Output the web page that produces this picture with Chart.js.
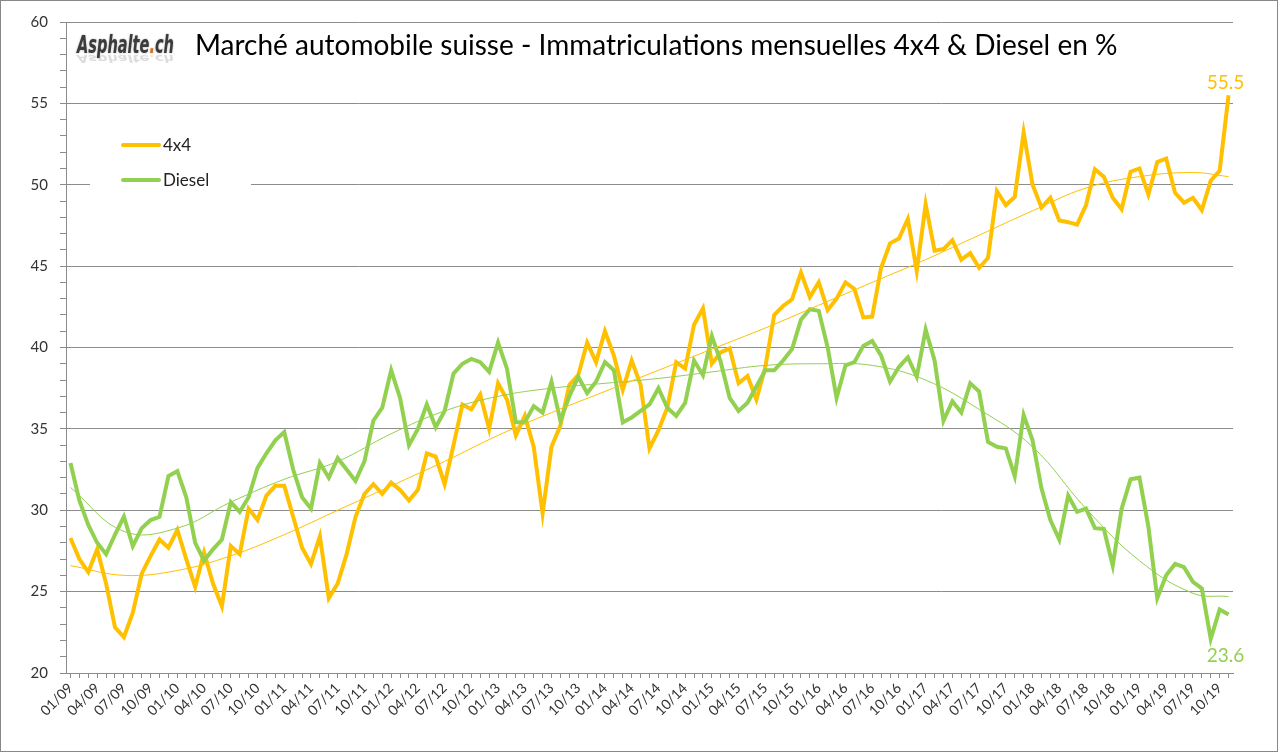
<!DOCTYPE html>
<html>
<head>
<meta charset="utf-8">
<script src="https://cdn.jsdelivr.net/npm/chart.js@4.4.1/dist/chart.umd.min.js"></script>
<style>
html, body { margin: 0; padding: 0; background: #fff; }
#wrap { width: 1278px; height: 752px; position: relative; }
</style>
</head>
<body>
<div id="wrap"><canvas id="chart" width="1278" height="752"></canvas></div>
<script>
// categories: 01/09 .. 11/19
const years = ['09', '10', '11', '12', '13', '14', '15', '16', '17', '18', '19'];
const monthNums = ['01', '02', '03', '04', '05', '06', '07', '08', '09', '10', '11', '12'];
const months = [];
years.forEach(y => monthNums.forEach(m => months.push(m + '/' + y)));
months.length = 131;

const share4x4 = [
  28.3, 27.0, 26.2, 27.6, 25.5, 22.8, 22.2, 23.7, 26.1, 27.2, 28.2, 27.7,
  28.8, 27.0, 25.3, 27.4, 25.5, 24.1, 27.8, 27.3, 30.1, 29.4, 30.9, 31.5,
  31.5, 29.6, 27.7, 26.7, 28.4, 24.6, 25.5, 27.3, 29.6, 31.0, 31.6, 31.0,
  31.7, 31.25, 30.6, 31.25, 33.5, 33.3, 31.6, 34.0, 36.5, 36.2, 37.1, 35.0,
  37.8, 36.8, 34.6, 35.8, 33.9, 29.8, 33.9, 35.2, 37.7, 38.3, 40.3, 39.1,
  41.0, 39.5, 37.4, 39.2, 37.7, 33.8, 34.9, 36.3, 39.1, 38.7, 41.4, 42.4,
  39.0, 39.7, 39.95, 37.8, 38.25, 36.8, 38.8, 42.0, 42.55, 42.96, 44.6, 43.1,
  44.0, 42.3, 43.0, 44.0, 43.6, 41.85, 41.9, 44.9, 46.4, 46.7, 47.9, 44.7,
  48.8, 45.95, 46.05, 46.6, 45.4, 45.8, 44.9, 45.5, 49.6, 48.75, 49.25, 53.2,
  50.0, 48.6, 49.2, 47.8, 47.7, 47.55, 48.75, 50.95, 50.5, 49.2, 48.5, 50.8,
  51.0, 49.4, 51.4, 51.6, 49.5, 48.9, 49.2, 48.45, 50.25, 50.85, 55.5
];

const shareDiesel = [
  32.9, 30.6, 29.1, 28.0, 27.3, 28.5, 29.6, 27.8, 28.9, 29.4, 29.6, 32.1,
  32.4, 30.8, 28.0, 26.9, 27.6, 28.2, 30.5, 29.9, 30.8, 32.6, 33.5, 34.3,
  34.8, 32.5, 30.8, 30.1, 32.9, 32.0, 33.2, 32.5, 31.8, 33.0, 35.5, 36.3,
  38.6, 36.9, 34.0, 35.0, 36.5, 35.1, 36.1, 38.4, 39.0, 39.3, 39.1, 38.5,
  40.3, 38.7, 35.4, 35.4, 36.4, 36.0, 37.9, 35.5, 37.0, 38.2, 37.2, 37.9,
  39.1, 38.6, 35.4, 35.7, 36.1, 36.5, 37.5, 36.3, 35.8, 36.6, 39.2, 38.3,
  40.7, 39.1, 36.9, 36.1, 36.6, 37.6, 38.6, 38.6, 39.2, 39.9, 41.7, 42.35,
  42.25, 40.0, 36.9, 38.9, 39.1, 40.1, 40.4, 39.5, 37.9, 38.8, 39.4, 38.2,
  41.1, 39.2, 35.5, 36.7, 36.0, 37.8, 37.3, 34.2, 33.9, 33.8, 32.1, 35.85,
  34.3, 31.35, 29.4, 28.2, 30.9, 29.9, 30.1, 28.9, 28.85, 26.6, 30.1, 31.9,
  32.0, 29.0, 24.6, 26.0, 26.7, 26.5, 25.6, 25.2, 22.1, 23.9, 23.6
];

// trend curves, read every 6 months off the picture
const trendMonths = ['01/09', '07/09', '01/10', '07/10', '01/11', '07/11', '01/12', '07/12',
  '01/13', '07/13', '01/14', '07/14', '01/15', '07/15', '01/16', '07/16', '01/17', '07/17',
  '01/18', '07/18', '01/19', '07/19', '11/19'];
const trend4x4 = [26.6, 26.0, 26.3, 27.2, 28.5, 30.0, 31.5, 33.0, 34.6, 36.0, 37.3, 38.6,
  39.9, 41.2, 42.6, 44.0, 45.4, 46.9, 48.4, 49.8, 50.5, 50.75, 50.5];
const trendDiesel = [31.4, 28.7, 28.9, 30.5, 31.9, 33.0, 34.7, 36.1, 37.0, 37.5, 37.8, 38.1,
  38.5, 38.9, 39.0, 38.9, 38.0, 36.2, 33.9, 30.1, 26.9, 24.9, 24.7];

const yTicks = [20, 25, 30, 35, 40, 45, 50, 55, 60];

const ORANGE = '#FFC000';
const GREEN = '#92D050';
const GRID = '#8c8c8c';
const FONT = 'Lato, "Open Sans", sans-serif';

const toPoints = (labels, vals) => labels.map((m, i) => ({ x: m, y: vals[i] }));

const decorPlugin = {
  id: 'decor',
  beforeDraw(chart) {
    const c = chart.ctx;
    c.save();
    c.fillStyle = '#fff';
    c.fillRect(0, 0, chart.width, chart.height);
    c.restore();
  },
  afterDraw(chart) {
    const c = chart.ctx;
    c.save();

    // outer frame
    c.strokeStyle = '#888';
    c.lineWidth = 1;
    c.strokeRect(0.5, 0.5, chart.width - 1, chart.height - 1);

    // title
    const title = 'Marché automobile suisse - Immatriculations mensuelles 4x4 & Diesel en %';
    c.font = '25px ' + FONT;
    let w = c.measureText(title).width;
    const size = 25 * 923 / w;
    c.font = size.toFixed(1) + 'px ' + FONT;
    c.fillStyle = '#000';
    c.textBaseline = 'alphabetic';
    c.textAlign = 'left';
    c.fillText(title, 195, 55);

    // logo
    const logoFont = 'italic bold 24px "DejaVu Sans Condensed", "DejaVu Sans", sans-serif';
    c.font = logoFont;
    const a = 'Asphalte', d = '.', h = 'ch';
    const wa = c.measureText(a).width, wd = c.measureText(d).width, wh = c.measureText(h).width;
    const sx = 97 / (wa + wd + wh);
    const drawLogo = (alpha) => {
      c.globalAlpha = alpha;
      c.fillStyle = '#3b3b3b';
      c.fillText(a, 0, 0);
      c.fillStyle = '#d9731a';
      c.fillText(d, wa, 0);
      c.fillStyle = '#3b3b3b';
      c.fillText(h, wa + wd, 0);
    };
    c.save();
    c.translate(77, 53);
    c.scale(sx, 1);
    c.shadowColor = 'rgba(0,0,0,0.35)';
    c.shadowBlur = 2;
    drawLogo(1);
    c.restore();
    c.save();
    c.translate(77, 55);
    c.scale(sx, -0.45);
    drawLogo(0.18);
    c.restore();
    c.globalAlpha = 1;

    // legend
    c.fillStyle = '#fff';
    c.fillRect(90, 118, 161, 80);
    c.lineCap = 'round';
    c.lineWidth = 4;
    [[ORANGE, '4x4', 145], [GREEN, 'Diesel', 180]].forEach(([col, txt, y]) => {
      c.strokeStyle = col;
      c.beginPath();
      c.moveTo(123, y);
      c.lineTo(159, y);
      c.stroke();
      c.fillStyle = '#222';
      c.font = '17px ' + FONT;
      c.textBaseline = 'middle';
      c.fillText(txt, 163, y + 1);
    });

    // end values
    c.font = '19px ' + FONT;
    c.textAlign = 'center';
    const m0 = chart.getDatasetMeta(0).data;
    const m1 = chart.getDatasetMeta(1).data;
    const p0 = m0[m0.length - 1], p1 = m1[m1.length - 1];
    c.fillStyle = ORANGE;
    c.textBaseline = 'alphabetic';
    c.fillText(share4x4[share4x4.length - 1].toFixed(1), p0.x - 3, p0.y - 6);
    c.fillStyle = GREEN;
    c.fillText(shareDiesel[shareDiesel.length - 1].toFixed(1), p1.x - 3, p1.y + 48);

    c.restore();
  }
};

new Chart(document.getElementById('chart').getContext('2d'), {
  type: 'line',
  data: {
    labels: months,
    datasets: [
      {
        label: '4x4',
        data: share4x4,
        borderColor: ORANGE,
        borderWidth: 4,
        pointRadius: 0,
        tension: 0,
        order: 2
      },
      {
        label: 'Diesel',
        data: shareDiesel,
        borderColor: GREEN,
        borderWidth: 4,
        pointRadius: 0,
        tension: 0,
        order: 1
      },
      {
        label: 'trend 4x4',
        data: toPoints(trendMonths, trend4x4),
        borderColor: ORANGE,
        borderWidth: 1,
        pointRadius: 0,
        tension: 0.4,
        order: 0
      },
      {
        label: 'trend Diesel',
        data: toPoints(trendMonths, trendDiesel),
        borderColor: GREEN,
        borderWidth: 1,
        pointRadius: 0,
        tension: 0.4,
        order: 0
      }
    ]
  },
  options: {
    responsive: false,
    devicePixelRatio: 1,
    animation: false,
    layout: { padding: { top: 22, right: 45, left: 0, bottom: 0 } },
    plugins: {
      legend: { display: false },
      tooltip: { enabled: false },
      title: { display: false }
    },
    scales: {
      x: {
        type: 'category',
        offset: true,
        grid: { drawOnChartArea: false, color: GRID, tickLength: 5 },
        border: { color: GRID },
        ticks: {
          autoSkip: false,
          maxRotation: 45,
          minRotation: 45,
          padding: 2,
          color: '#333',
          font: { family: FONT, size: 14 },
          callback: (v, i) => (i % 3 === 0 ? months[i] : '')
        },
        afterFit: s => { s.height = 79; }
      },
      y: {
        min: yTicks[0],
        max: yTicks[yTicks.length - 1],
        ticks: {
          stepSize: 1,
          autoSkip: false,
          padding: 12,
          color: '#333',
          font: { family: FONT, size: 15 },
          callback: v => (yTicks.includes(v) ? String(v) : '')
        },
        grid: {
          color: ctx => (ctx.tick && yTicks.includes(ctx.tick.value) ? GRID : 'rgba(0,0,0,0)'),
          tickColor: GRID,
          tickLength: 6
        },
        border: { color: GRID },
        afterFit: s => { s.width = 66; }
      }
    }
  },
  plugins: [decorPlugin]
});
</script>
</body>
</html>
